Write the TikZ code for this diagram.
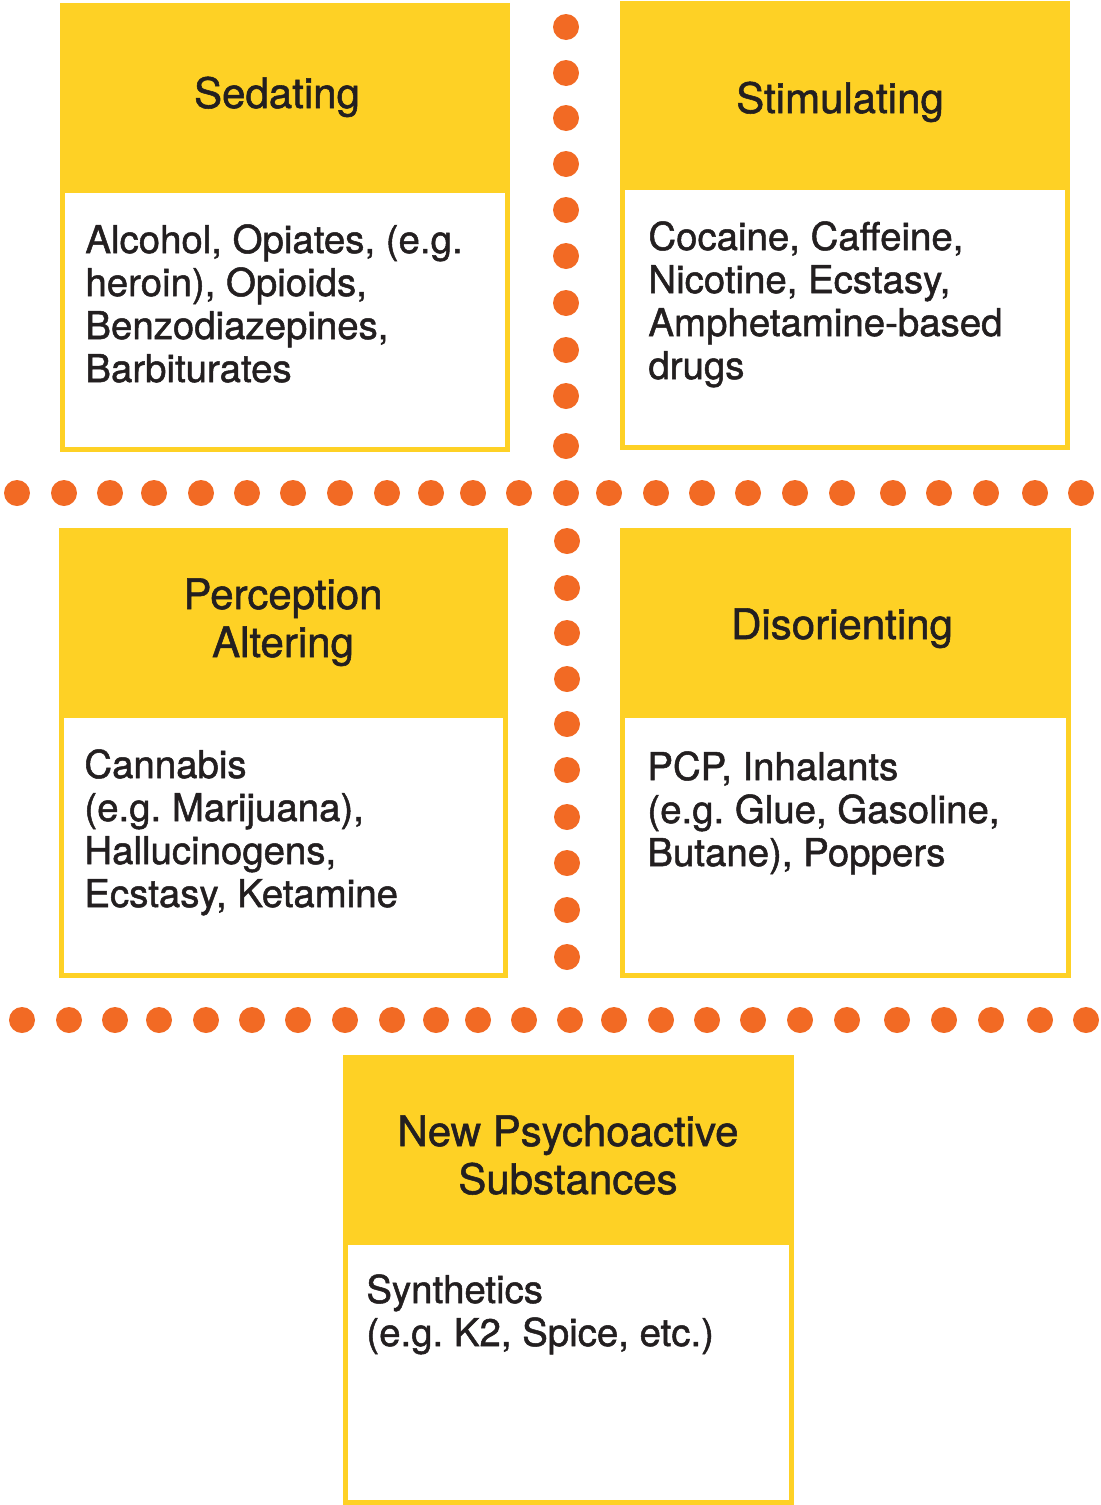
\documentclass[tikz,border=0pt]{standalone}
\usepackage{fontspec}
\setmainfont{TeX Gyre Heros}[BoldFont={TeX Gyre Heros},BoldFeatures={FakeBold=1.3}]
\definecolor{boxyellow}{HTML}{FED125}
\definecolor{dotorange}{HTML}{F26A24}
\definecolor{inktext}{HTML}{231F20}
\frenchspacing
\begin{document}
\begin{tikzpicture}[x=0.5pt,y=-0.5pt,
  title/.style={anchor=base,align=center,text=inktext,inner sep=0pt,
    font=\fontsize{21}{24}\selectfont\bfseries},
  body/.style={anchor=base west,align=left,text=inktext,inner sep=0pt,
    font=\fontsize{19.2}{21.5}\selectfont\bfseries},
  dot/.style={fill=dotorange}]
\useasboundingbox (0,0) rectangle (1100,1505);

% category cards: yellow frame with header band, white body
\fill[boxyellow] (60,3) rectangle (510,452);
\fill[white] (65,193) rectangle (505,447);
\fill[boxyellow] (620,1) rectangle (1070,450);
\fill[white] (625,190) rectangle (1065,445);
\fill[boxyellow] (59,528) rectangle (508,978);
\fill[white] (64,718) rectangle (503,973);
\fill[boxyellow] (620,528) rectangle (1071,978);
\fill[white] (625,718) rectangle (1066,973);
\fill[boxyellow] (343,1055) rectangle (794,1505);
\fill[white] (348,1245) rectangle (789,1500);

% headers (anchored on the baseline of the last line)
\node[title] (sedT) at (277,108) {Sedating};
\node[title] (stimT) at (840,113) {Stimulating};
\node[title] (percT) at (283,657) {Perception\\Altering};
\node[title] (disT) at (842,639) {Disorienting};
\node[title] (npsT) at (568,1194) {New Psychoactive\\Substances};

% contents (anchored on the baseline of the last line)
\node[body] (sedB) at (85,382) {Alcohol, Opiates, (e.g.\\heroin), Opioids,\\Benzodiazepines,\\Barbiturates};
\node[body] (stimB) at (648,379) {Cocaine, Caffeine,\\Nicotine, Ecstasy,\\Amphetamine-based\\drugs};
\node[body] (percB) at (84,907) {Cannabis\\(e.g. Marijuana),\\Hallucinogens,\\Ecstasy, Ketamine};
\node[body] (disB) at (647,866) {PCP, Inhalants\\(e.g. Glue, Gasoline,\\Butane), Poppers};
\node[body] (npsB) at (366,1346) {Synthetics\\(e.g. K2, Spice, etc.)};

% dotted separators
\foreach \y in {27,73,118,164,210,256,303,350,396,446}
  \fill[dot] (566,\y) circle[radius=6.5pt];
\foreach \y in {541,588,633,679,724,770,817,863,910,957}
  \fill[dot] (567,\y) circle[radius=6.5pt];
\foreach \x in {17,64,110,154,201,247,293,340,387,431,473,519,566,609,656,702,748,795,842,893,939,986,1035,1081}
  \fill[dot] (\x,493) circle[radius=6.5pt];
\foreach \x in {22,69,115,159,206,252,298,345,392,436,478,524,570,614,661,707,753,800,847,897,944,991,1040,1086}
  \fill[dot] (\x,1020) circle[radius=6.5pt];
\end{tikzpicture}
\end{document}
